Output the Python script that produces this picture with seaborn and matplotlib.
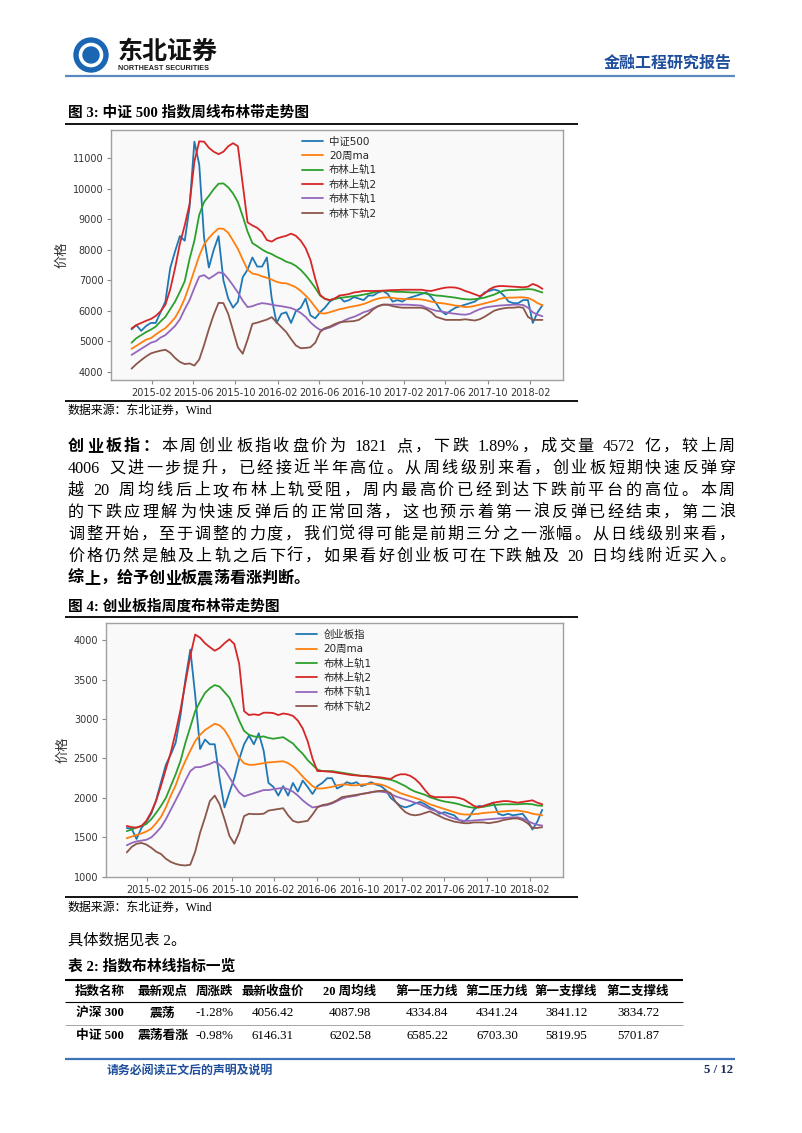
import re
import numpy as np
import pandas as pd
import matplotlib
matplotlib.use('Agg')
import matplotlib.pyplot as plt
import matplotlib.dates as mdates
from matplotlib.patches import Circle
import seaborn as sns

sns.set_theme(style='white')
plt.rcParams['font.family'] = ['DejaVu Sans', 'Noto Sans CJK SC']
plt.rcParams['axes.unicode_minus'] = False

# ---------------- data ----------------
dates = pd.date_range('2014-12-05', periods=86, freq='14D')
names1 = ['中证500', '20周ma', '布林上轨1', '布林上轨2', '布林下轨1', '布林下轨2']
names2 = ['创业板指', '20周ma', '布林上轨1', '布林上轨2', '布林下轨1', '布林下轨2']

zz500 = [5390, 5530, 5340, 5500, 5600, 5600, 5950, 6300, 7400, 7950,
         8450, 8300, 9400, 11550, 10800, 8400, 7420, 8000, 8450, 7000,
         6400, 6100, 6300, 7100, 7350, 7750, 7450, 7450, 7750, 6400,
         5600, 5900, 5950, 5600, 5990, 6100, 6400, 5850, 5750, 5950,
         6100, 6300, 6400, 6450, 6300, 6350, 6450, 6400, 6350, 6500,
         6500, 6600, 6650, 6550, 6300, 6350, 6300, 6400, 6450, 6500,
         6550, 6600, 6450, 6250, 6000, 5880, 6000, 6100, 6150, 6200,
         6250, 6300, 6420, 6600, 6650, 6700, 6650, 6500, 6300, 6250,
         6250, 6350, 6350, 5600, 5950, 6180]
zz_ma = [4750, 4850, 4950, 5050, 5100, 5220, 5330, 5430, 5590, 5770,
         6050, 6400, 6850, 7330, 7800, 8180, 8390, 8560, 8700, 8690,
         8560, 8300, 8030, 7680, 7350, 7220, 7190, 7130, 7080, 7020,
         6950, 6910, 6900, 6840, 6770, 6650, 6500, 6330, 6120, 5920,
         5910, 5950, 6000, 6050, 6080, 6120, 6150, 6180, 6220, 6280,
         6350, 6400, 6430, 6440, 6420, 6400, 6390, 6380, 6380, 6380,
         6370, 6340, 6300, 6270, 6250, 6230, 6200, 6170, 6150, 6120,
         6130, 6160, 6200, 6240, 6280, 6320, 6380, 6420, 6430, 6430,
         6440, 6440, 6420, 6350, 6250, 6180]
zz_up1 = [4950, 5100, 5200, 5300, 5380, 5480, 5650, 5800, 6050, 6300,
          6620, 6970, 7700, 8300, 9150, 9570, 9770, 9990, 10170, 10180,
          10050, 9850, 9570, 9100, 8600, 8220, 8120, 8010, 7920, 7860,
          7770, 7700, 7610, 7560, 7470, 7340, 7170, 6970, 6750, 6500,
          6390, 6350, 6380, 6420, 6440, 6460, 6480, 6500, 6530, 6560,
          6600, 6640, 6650, 6650, 6630, 6620, 6620, 6610, 6600, 6600,
          6590, 6560, 6530, 6500, 6490, 6470, 6450, 6430, 6400, 6380,
          6370, 6380, 6400, 6430, 6480, 6530, 6600, 6660, 6680, 6680,
          6690, 6700, 6710, 6700, 6650, 6600]
zz_up2 = [5420, 5530, 5600, 5670, 5730, 5830, 5980, 6200, 6700, 7400,
          8200, 8800, 9500, 10900, 11560, 11550, 11350, 11220, 11140, 11220,
          11400, 11500, 11400, 10150, 8900, 8800, 8720, 8580, 8320, 8270,
          8370, 8420, 8460, 8530, 8460, 8300, 8060, 7670, 7050, 6520,
          6390, 6350, 6400, 6500, 6520, 6550, 6600, 6620, 6650, 6650,
          6650, 6650, 6660, 6670, 6680, 6680, 6690, 6690, 6690, 6690,
          6690, 6660, 6650, 6690, 6730, 6760, 6770, 6760, 6720, 6650,
          6600, 6540, 6480, 6560, 6700, 6780, 6810, 6810, 6800, 6790,
          6780, 6770, 6790, 6880, 6820, 6720]
zz_dn1 = [4550, 4650, 4750, 4850, 4950, 5000, 5120, 5200, 5350, 5500,
          5720, 6050, 6350, 6750, 7120, 7170, 7050, 7150, 7260, 7230,
          7050, 6830, 6600, 6330, 6120, 6150, 6210, 6250, 6230, 6200,
          6170, 6150, 6120, 6090, 6020, 5930, 5800, 5620, 5480, 5370,
          5400, 5450, 5520, 5600, 5680, 5750, 5800, 5870, 5950, 6000,
          6080, 6150, 6200, 6200, 6200, 6200, 6200, 6200, 6190, 6180,
          6170, 6100, 6050, 6000, 5980, 5950, 5920, 5900, 5880, 5870,
          5900, 5980, 6050, 6100, 6130, 6150, 6170, 6180, 6190, 6200,
          6200, 6190, 6100, 5950, 5870, 5820]
zz_dn2 = [4100, 4250, 4380, 4500, 4600, 4650, 4690, 4720, 4620, 4450,
          4320, 4250, 4270, 4200, 4400, 4870, 5400, 5870, 6260, 6250,
          5900, 5350, 4800, 4590, 5050, 5570, 5610, 5660, 5710, 5790,
          5620, 5460, 5300, 5070, 4860, 4770, 4780, 4800, 4950, 5300,
          5430, 5480, 5560, 5620, 5640, 5650, 5660, 5700, 5800, 5900,
          6050, 6150, 6200, 6200, 6150, 6120, 6100, 6100, 6100, 6100,
          6100, 6050, 5950, 5800, 5750, 5700, 5700, 5700, 5700, 5720,
          5700, 5680, 5720, 5800, 5900, 6000, 6050, 6080, 6100, 6100,
          6120, 6100, 5800, 5700, 5700, 5700]

cyb = [1620, 1610, 1480, 1620, 1700, 1800, 1970, 2200, 2420, 2550,
       2700, 3050, 3500, 3880, 3300, 2620, 2740, 2680, 2680, 2240,
       1880, 2070, 2250, 2490, 2680, 2790, 2680, 2820, 2600, 2190,
       2140, 2030, 2150, 2030, 2190, 2080, 2220, 2140, 2050, 2150,
       2190, 2250, 2250, 2120, 2150, 2200, 2180, 2200, 2150, 2170,
       2200, 2170, 2150, 2100, 2000, 1950, 1900, 1880, 1900, 1930,
       1950, 1920, 1880, 1850, 1800, 1820, 1800, 1780, 1720, 1700,
       1750, 1850, 1900, 1890, 1910, 1940, 1800, 1780, 1800, 1780,
       1790, 1800, 1720, 1600, 1700, 1850]
cyb_ma = [1490, 1510, 1530, 1550, 1575, 1610, 1680, 1760, 1880, 2030,
          2160, 2330, 2470, 2600, 2720, 2800, 2860, 2900, 2940, 2920,
          2860, 2760, 2630, 2510, 2440, 2420, 2420, 2430, 2440, 2450,
          2455, 2460, 2465, 2440, 2400, 2340, 2270, 2210, 2150, 2120,
          2120, 2130, 2140, 2160, 2170, 2170, 2160, 2160, 2170, 2175,
          2180, 2180, 2170, 2150, 2120, 2090, 2060, 2040, 2020, 2000,
          1980, 1950, 1920, 1900, 1880, 1860, 1840, 1820, 1800, 1790,
          1790, 1795, 1800, 1810, 1815, 1820, 1825, 1830, 1835, 1840,
          1840, 1830, 1820, 1800, 1790, 1780]
cyb_up1 = [1580, 1600, 1625, 1645, 1670, 1730, 1810, 1900, 2000, 2150,
           2300, 2470, 2700, 2900, 3100, 3220, 3330, 3390, 3430, 3410,
           3340, 3270, 3130, 2980, 2850, 2800, 2780, 2770, 2780, 2760,
           2750, 2760, 2770, 2730, 2690, 2620, 2560, 2480, 2420, 2360,
           2340, 2340, 2340, 2330, 2320, 2310, 2300, 2290, 2280, 2280,
           2270, 2260, 2250, 2240, 2230, 2210, 2180, 2150, 2110, 2080,
           2060, 2040, 2010, 1990, 1970, 1955, 1945, 1935, 1920, 1900,
           1885, 1875, 1880, 1890, 1900, 1910, 1915, 1920, 1920, 1920,
           1920, 1925, 1925, 1920, 1905, 1900]
cyb_up2 = [1646, 1630, 1625, 1645, 1710, 1820, 1965, 2155, 2365, 2575,
           2830, 3120, 3460, 3800, 4070, 4030, 3960, 3910, 3865, 3900,
           3960, 4010, 3950, 3700, 3100, 3050, 3060, 3050, 3080, 3080,
           3075, 3050, 3070, 3060, 3040, 2980, 2880, 2720, 2500, 2340,
           2340, 2335, 2330, 2320, 2310, 2300, 2290, 2285, 2280, 2275,
           2270, 2265, 2260, 2250, 2240, 2280, 2300, 2300, 2280, 2240,
           2180, 2100, 2030, 2010, 2010, 2010, 2010, 2010, 2000, 1980,
           1940, 1900, 1880, 1900, 1920, 1940, 1950, 1960, 1960, 1950,
           1940, 1950, 1960, 1970, 1940, 1920]
cyb_dn1 = [1400, 1430, 1450, 1460, 1470, 1500, 1560, 1630, 1730, 1850,
           1970, 2090, 2220, 2340, 2390, 2390, 2410, 2430, 2460, 2420,
           2360, 2260, 2160, 2070, 2020, 2040, 2060, 2080, 2100, 2100,
           2110, 2120, 2130, 2110, 2080, 2030, 1970, 1920, 1880, 1890,
           1900, 1910, 1930, 1960, 1990, 2010, 2020, 2030, 2050, 2060,
           2075, 2080, 2080, 2070, 2050, 2020, 2000, 1980, 1960, 1940,
           1920, 1890, 1860, 1840, 1820, 1790, 1760, 1740, 1720, 1710,
           1710, 1715, 1720, 1725, 1730, 1735, 1740, 1745, 1750, 1755,
           1755, 1740, 1710, 1680, 1660, 1650]
cyb_dn2 = [1310, 1380, 1420, 1430, 1410, 1370, 1320, 1290, 1230, 1190,
           1165, 1150, 1145, 1155, 1320, 1560, 1750, 1960, 2030, 1920,
           1730, 1520, 1420, 1560, 1770, 1800, 1795, 1795, 1800, 1840,
           1850, 1860, 1870, 1780, 1710, 1690, 1700, 1710, 1790, 1880,
           1910, 1920, 1940, 1970, 2010, 2020, 2030, 2040, 2050, 2060,
           2070, 2085, 2090, 2090, 2060, 1950, 1880, 1820, 1790, 1780,
           1790, 1810, 1830, 1800, 1770, 1740, 1720, 1700, 1690, 1680,
           1680, 1690, 1690, 1690, 1680, 1690, 1700, 1720, 1730, 1740,
           1740, 1720, 1680, 1620, 1620, 1630]

tbl_header = ['指数名称', '最新观点', '周涨跌', '最新收盘价', '20 周均线',
              '第一压力线', '第二压力线', '第一支撑线', '第二支撑线']
tbl_rows = [['沪深 300', '震荡', '-1.28%', '4056.42', '4087.98', '4334.84', '4341.24', '3841.12', '3834.72'],
            ['中证 500', '震荡看涨', '-0.98%', '6146.31', '6202.58', '6585.22', '6703.30', '5819.95', '5701.87']]

para = [
    [('创业板指：', 'bold'), ('本周创业板指收盘价为 1821 点，下跌 1.89%，成交量 4572 亿，较上周', 'normal')],
    [('4006 又进一步提升，已经接近半年高位。从周线级别来看，创业板短期快速反弹穿', 'normal')],
    [('越 20 周均线后上攻布林上轨受阻，周内最高价已经到达下跌前平台的高位。本周', 'normal')],
    [('的下跌应理解为快速反弹后的正常回落，这也预示着第一浪反弹已经结束，第二浪', 'normal')],
    [('调整开始，至于调整的力度，我们觉得可能是前期三分之一涨幅。从日线级别来看，', 'normal')],
    [('价格仍然是触及上轨之后下行，如果看好创业板可在下跌触及 20 日均线附近买入。', 'normal')],
    [('综上，给予创业板震荡看涨判断。', 'bold')],
]

COLORS = ['#1f77b4', '#ff7f0e', '#2ca02c', '#d62728', '#9467bd', '#8c564b']
BODY = ['Liberation Serif', 'Noto Sans CJK SC']
CJK = ['Noto Sans CJK SC', 'DejaVu Sans']
W, H = 802, 1133

fig = plt.figure(figsize=(W / 100, H / 100), dpi=100)
fig.patch.set_facecolor('white')
ov = fig.add_axes([0, 0, 1, 1])
ov.set_xlim(0, W)
ov.set_ylim(H, 0)
ov.axis('off')
R = fig.canvas.get_renderer()


def axrect(l, t, r, b):
    return [l / W, 1 - b / H, (r - l) / W, (b - t) / H]


def put(x, y, s, size, weight='normal', color='black', family=BODY, ha='left', va='center', **kw):
    return ov.text(x, y, s, fontsize=size, fontweight=weight, color=color,
                   family=family, ha=ha, va=va, **kw)


def hline(y, x0, x1, color='black', lw=1.0):
    ov.plot([x0, x1], [y, y], color=color, lw=lw, solid_capstyle='butt')


def text_line(segs, x0, x1, y, size, justify=True, color='black'):
    items = []
    for txt, w in segs:
        for tk in re.findall(r'[0-9A-Za-z\.%\-]+| |.', txt):
            items.append((tk, w))
    arts = []
    total = 0.0
    sp = size * 100 / 72 * 0.25
    for tk, w in items:
        if tk == ' ':
            arts.append((None, sp))
            total += sp
        else:
            t = put(0, y, tk, size, weight=w, color=color)
            wd = t.get_window_extent(renderer=R).width
            arts.append((t, wd))
            total += wd
    gap = (x1 - x0 - total) / (len(arts) - 1) if (justify and len(arts) > 1) else 0.0
    x = x0
    for t, wd in arts:
        if t is not None:
            t.set_x(x)
        x += wd + gap


def draw_chart(ax, values, names, anchor_x):
    df = pd.DataFrame({'date': dates})
    for n, v in zip(names, values):
        df[n] = v
    long = df.melt(id_vars='date', var_name='series', value_name='value')
    sns.lineplot(data=long, x='date', y='value', hue='series', hue_order=names,
                 palette=COLORS, linewidth=1.3, ax=ax)
    ax.set_facecolor('#f9f9f9')
    for s in ax.spines.values():
        s.set_visible(True)
        s.set_color('#a0a0a0')
        s.set_linewidth(1.0)
    ax.margins(x=0.05, y=0.05)
    ax.xaxis.set_major_locator(mdates.MonthLocator(bymonth=[2, 6, 10]))
    ax.xaxis.set_major_formatter(mdates.DateFormatter('%Y-%m'))
    ax.tick_params(axis='both', which='major', bottom=True, left=True, labelsize=7,
                   labelcolor='#333333', color='#888888', length=3, width=0.8, pad=2.5)
    ax.set_xlabel('')
    ax.set_ylabel('价格', fontsize=9.5, color='#333333', labelpad=3)
    old = ax.get_legend()
    handles = old.legend_handles
    labels = [t.get_text() for t in old.texts]
    old.remove()
    ax.legend(handles, labels, loc='upper left', bbox_to_anchor=(anchor_x, 0.985),
              frameon=False, fontsize=7.5, handlelength=2.0, handletextpad=0.6,
              labelspacing=0.4, borderaxespad=0.0, borderpad=0.3)


# ---------------- header ----------------
ov.add_patch(Circle((91, 55), 17, color='#1a66b3', zorder=3))
ov.add_patch(Circle((91, 55), 10.5, facecolor='none', edgecolor='white', lw=2.6, zorder=4))
put(91, 55.5, 'S', 13, weight='bold', color='#1a66b3', family=['Liberation Sans'], ha='center', zorder=5)
put(118, 52, '东北证券', 18, weight='bold', color='#111111', family=CJK)
put(118, 69, 'NORTHEAST SECURITIES', 5.2, weight='bold', color='#222222', family=['Liberation Sans'])
put(732, 63, '金融工程研究报告', 11.5, weight='bold', color='#1f4e9c', family=CJK, ha='right')
hline(75.5, 65, 735, color='#5a88c2', lw=1.6)

# ---------------- figure 3 ----------------
put(68, 113, '图 3: 中证 500 指数周线布林带走势图', 10.6, weight='bold', family=BODY)
hline(123.5, 65, 578, lw=1.3)
ax1 = fig.add_axes(axrect(111, 130, 563, 380))
draw_chart(ax1, [zz500, zz_ma, zz_up1, zz_up2, zz_dn1, zz_dn2], names1, 0.415)
hline(400.5, 65, 578, lw=1.3)
put(68, 411, '数据来源：东北证券，Wind', 8.6, family=BODY)

# ---------------- paragraph ----------------
for k, segs in enumerate(para):
    last = (k == len(para) - 1)
    text_line(segs, 68, 735, 447 + 22 * k, 11.6, justify=not last)

# ---------------- figure 4 ----------------
put(68, 607, '图 4: 创业板指周度布林带走势图', 10.6, weight='bold', family=BODY)
hline(617, 65, 578, lw=1.3)
ax2 = fig.add_axes(axrect(106, 623, 563, 877))
draw_chart(ax2, [cyb, cyb_ma, cyb_up1, cyb_up2, cyb_dn1, cyb_dn2], names2, 0.41)
hline(897, 65, 578, lw=1.3)
put(68, 908, '数据来源：东北证券，Wind', 8.6, family=BODY)

# ---------------- table ----------------
put(68, 940, '具体数据见表 2。', 11.0, family=BODY)
put(68, 966, '表 2: 指数布林线指标一览', 10.6, weight='bold', family=BODY)
col_x = [100, 163, 215, 273, 350, 427, 497, 566, 638]
hline(980, 65, 683, lw=1.5)
for cx, h in zip(col_x, tbl_header):
    put(cx, 991.5, h, 9.0, weight='bold', family=BODY, ha='center')
hline(1002, 65, 683, lw=0.8)
row_y = [1013.5, 1036]
for ry, row in zip(row_y, tbl_rows):
    for j, (cx, v) in enumerate(zip(col_x, row)):
        put(cx, ry, v, 9.4 if j > 1 else 9.2, weight='bold' if j < 2 else 'normal',
            family=BODY, ha='center')
hline(1025, 65, 683, color='#999999', lw=0.6)

# ---------------- footer ----------------
hline(1059, 65, 735, color='#3d74b8', lw=1.6)
put(107, 1070, '请务必阅读正文后的声明及说明', 8.6, weight='bold', color='#1f4e9c', family=CJK)
put(733, 1070, '5 / 12', 9.2, weight='bold', color='#1a2a55', family=['Liberation Serif'], ha='right')

fig.savefig('out.png', dpi=100, facecolor='white')
